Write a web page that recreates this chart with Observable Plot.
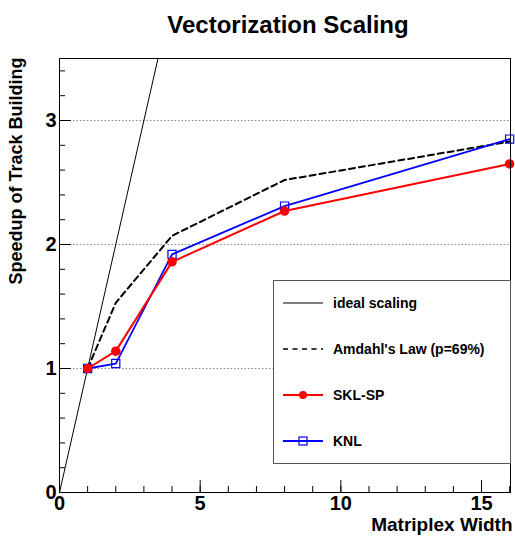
<!DOCTYPE html>
<html>
<head>
<meta charset="utf-8">
<script src="https://cdn.jsdelivr.net/npm/d3@7"></script>
<script src="https://cdn.jsdelivr.net/npm/@observablehq/plot@0.6"></script>
<style>
  body { margin: 0; background: #fff; }
  #chart svg { font-family: "Liberation Sans", Arial, sans-serif; }
</style>
</head>
<body>
<div id="chart"></div>
<script>
// ---- data ----
const widths = [1, 2, 4, 8, 16];
const amdahl = [1.0, 1.53, 2.07, 2.52, 2.83];
const sklsp  = [1.0, 1.14, 1.86, 2.27, 2.65];
const knl    = [1.0, 1.04, 1.92, 2.31, 2.85];
const idealX = [0, 4];
const idealY = [0, 4];
const xMajorTicks = [0, 5, 10, 15];
const xMinorTicks = [0, 1, 2, 3, 4, 5, 6, 7, 8, 9, 10, 11, 12, 13, 14, 15, 16];
const yMajorTicks = [0, 1, 2, 3];
const yMinorTicks = [0, 0.2, 0.4, 0.6, 0.8, 1, 1.2, 1.4, 1.6, 1.8, 2, 2.2, 2.4, 2.6, 2.8, 3, 3.2, 3.4];
const gridLines = [1, 2, 3];
const legendLabels = ["ideal scaling", "Amdahl's Law (p=69%)", "SKL-SP", "KNL"];
const titleText = "Vectorization Scaling";
const xTitle = "Matriplex Width";
const yTitle = "Speedup of Track Building";

const rows = widths.map((w, i) => ({w, amdahl: amdahl[i], skl: sklsp[i], knl: knl[i]}));
const ideal = idealX.map((x, i) => ({x, y: idealY[i]}));

const FONT = "Liberation Sans, Arial, sans-serif";
const RED = "#ff0000", BLUE = "#0000ff";

const chart = Plot.plot({
  width: 515,
  height: 538,
  marginTop: 58,
  marginLeft: 59,
  marginRight: 5,
  marginBottom: 46,
  style: {fontFamily: FONT, background: "white", color: "black"},
  x: {domain: [0, 16.03], axis: null},
  y: {domain: [0, 3.5], axis: null},
  marks: [
    Plot.gridY(gridLines, {stroke: "#888", strokeOpacity: 1, strokeDasharray: "1.5,2"}),
    // inward ticks (outward ticks shifted back into the frame)
    Plot.axisX(xMinorTicks, {anchor: "bottom", tickSize: 6, dy: -6, fill: "none", label: null}),
    Plot.axisX(xMajorTicks, {anchor: "bottom", tickSize: 12, dy: -12, fill: "none", label: null}),
    Plot.axisY(yMinorTicks, {anchor: "left", tickSize: 6, dx: 6, fill: "none", label: null}),
    Plot.axisY(yMajorTicks, {anchor: "left", tickSize: 12, dx: 12, fill: "none", label: null}),
    // tick labels
    Plot.axisX(xMajorTicks, {anchor: "bottom", tickSize: 0, tickPadding: 3, fontSize: 20, fontWeight: "bold", label: null, tickFormat: d => String(d)}),
    Plot.axisY(yMajorTicks, {anchor: "left", tickSize: 0, tickPadding: 3, fontSize: 20, fontWeight: "bold", label: null, tickFormat: d => String(d)}),
    // series
    Plot.line(ideal, {x: "x", y: "y", stroke: "black", strokeWidth: 1, clip: true}),
    Plot.line(rows, {x: "w", y: "amdahl", stroke: "black", strokeWidth: 2, strokeDasharray: "6,4"}),
    Plot.line(rows, {x: "w", y: "knl", stroke: BLUE, strokeWidth: 1.8}),
    Plot.dot(rows, {x: "w", y: "knl", symbol: "square", r: 4.6, stroke: BLUE, fill: "none", strokeWidth: 1.2}),
    Plot.line(rows, {x: "w", y: "skl", stroke: RED, strokeWidth: 2}),
    Plot.dot(rows, {x: "w", y: "skl", r: 4, fill: RED, stroke: RED}),
    Plot.frame({stroke: "black"}),
    // titles
    Plot.text([titleText], {frameAnchor: "top", text: d => d, dx: 3, dy: -26, lineAnchor: "bottom", fontSize: 24, fontWeight: "bold"}),
    Plot.text([xTitle], {frameAnchor: "bottom-right", text: d => d, dx: 2, dy: 38, textAnchor: "end", lineAnchor: "bottom", fontSize: 19, fontWeight: "bold"}),
    Plot.text([yTitle], {frameAnchor: "top-left", text: d => d, dx: -38, dy: -1, rotate: -90, textAnchor: "end", lineAnchor: "bottom", fontSize: 18, fontWeight: "bold"})
  ]
});
document.getElementById("chart").appendChild(chart);

// ---- legend box (layout) ----
const svg = d3.select(chart);
const lg = svg.append("g").attr("font-family", FONT).attr("font-size", 14).attr("font-weight", "bold")
  .attr("text-anchor", "start");
lg.append("rect").attr("x", 273.5).attr("y", 280.5).attr("width", 237).attr("height", 183)
  .attr("fill", "white").attr("stroke", "#555").attr("stroke-width", 1);
const rowY = [303, 349, 395, 441];
const styles = [
  {stroke: "black", width: 1, dash: null, marker: null},
  {stroke: "black", width: 1.6, dash: "5,4.5", marker: null},
  {stroke: RED, width: 2, dash: null, marker: "circle"},
  {stroke: BLUE, width: 1.8, dash: null, marker: "square"}
];
legendLabels.forEach((lab, i) => {
  const y = rowY[i], s = styles[i];
  const ln = lg.append("line").attr("x1", 283).attr("x2", 323).attr("y1", y).attr("y2", y)
    .attr("stroke", s.stroke).attr("stroke-width", s.width);
  if (s.dash) ln.attr("stroke-dasharray", s.dash);
  if (s.marker === "circle") lg.append("circle").attr("cx", 303).attr("cy", y).attr("r", 4).attr("fill", RED);
  if (s.marker === "square") lg.append("rect").attr("x", 299).attr("y", y - 4).attr("width", 8).attr("height", 8)
    .attr("fill", "none").attr("stroke", BLUE).attr("stroke-width", 1.2);
  lg.append("text").attr("x", 333).attr("y", y).attr("dy", "0.35em").attr("text-anchor", "start")
    .attr("fill", "black").text(lab);
});
</script>
</body>
</html>
